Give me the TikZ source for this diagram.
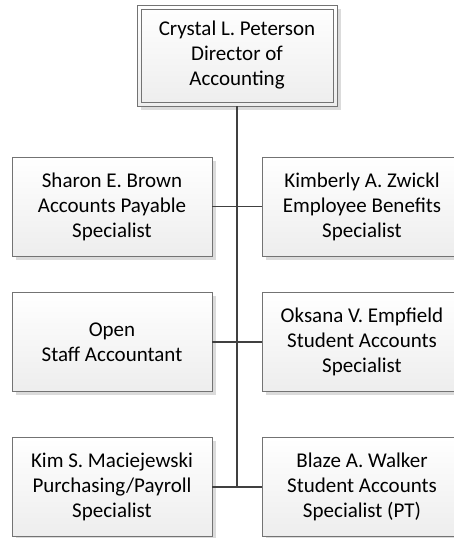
\documentclass[tikz,border=0pt]{standalone}
\usepackage{fontspec}
\setmainfont{Carlito}
\usetikzlibrary{shadows}
\begin{document}
\begin{tikzpicture}[x=1pt,y=-1pt,
  card/.style={draw=gray!90!black, line width=0.8pt, top color=white, bottom color=gray!14,
    minimum width=200pt, minimum height=99pt, inner sep=0pt, align=center,
    font=\fontsize{21}{25}\selectfont,
    drop shadow={shadow xshift=3.5pt, shadow yshift=-3.5pt, fill=gray!35, opacity=0.8}},
  headcard/.style={card, minimum height=101pt},
  innerframe/.style={draw=gray!90!black, line width=0.8pt},
  link/.style={draw=black!75, line width=1.8pt}]
\useasboundingbox (0,0) rectangle (453,538);
\node[headcard] (dir) at (237,55.5) {Crystal L. Peterson\\Director of\\Accounting};
\draw[innerframe] ([shift={(4.5,4.5)}]dir.north west) rectangle ([shift={(-4.5,-4.5)}]dir.south east);
\node[card] (l1) at (112,206.5) {Sharon E. Brown\\Accounts Payable\\Specialist};
\node[card] (r1) at (362,206.5) {Kimberly A. Zwickl\\Employee Benefits\\Specialist};
\node[card] (l2) at (112,342) {Open\\Staff Accountant};
\node[card] (r2) at (362,342) {Oksana V. Empfield\\Student Accounts\\Specialist};
\node[card] (l3) at (112,487) {Kim S. Maciejewski\\Purchasing/Payroll\\Specialist};
\node[card] (r3) at (362,487) {Blaze A. Walker\\Student Accounts\\Specialist (PT)};
\coordinate (bottomjoin) at (237,487);
\draw[link] (dir.south) -- (bottomjoin);
\draw[link] (l1.east) -- (r1.west);
\draw[link] (l2.east) -- (r2.west);
\draw[link] (l3.east) -- (r3.west);
\end{tikzpicture}
\end{document}
